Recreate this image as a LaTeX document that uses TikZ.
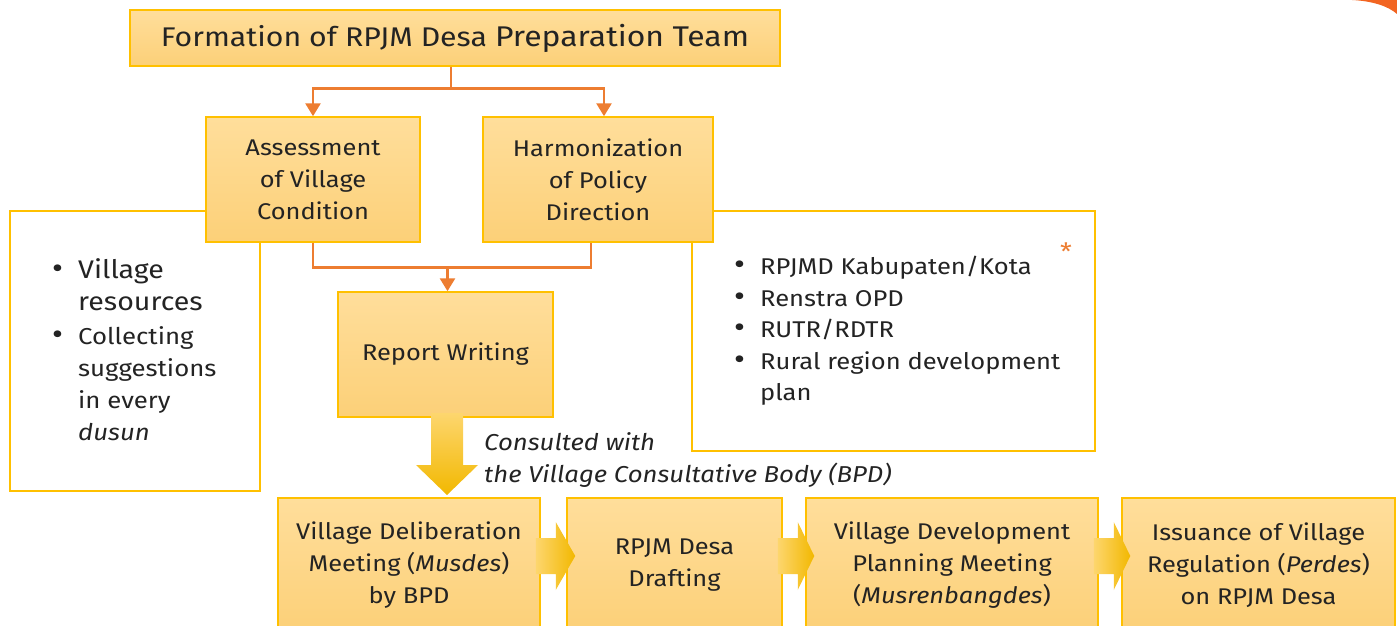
\documentclass[tikz,border=0pt]{standalone}
\usepackage{fontspec}
\setmainfont{Fira Sans}[FakeStretch=1.12]
\usetikzlibrary{arrows.meta,calc,positioning}
\definecolor{boxfillT}{RGB}{255,222,155}
\definecolor{boxfillB}{RGB}{252,208,120}
\definecolor{boxline}{RGB}{255,192,0}
\definecolor{conn}{RGB}{237,125,49}
\definecolor{arrT}{RGB}{253,214,110}
\definecolor{arrB}{RGB}{242,184,0}
\definecolor{txt}{RGB}{35,35,35}
\definecolor{accent}{RGB}{242,101,34}
\newcommand{\bul}{\makebox[0pt][l]{\hspace*{-26pt}\fontsize{30}{30}\selectfont\raisebox{0pt}{•}}}
\tikzset{
  stepbox/.style={draw=boxline,line width=1.5pt,top color=boxfillT,bottom color=boxfillB,
    align=center,text=txt,inner sep=0pt,font=\fontsize{22.7}{32}\selectfont},
  panel/.style={draw=boxline,line width=2pt,fill=white},
  conn/.style={draw=conn,line width=2.7pt},
  arr/.style={conn,-{Triangle[width=15pt,length=13pt]}},
  blockarrH/.style={left color=arrT,right color=arrB,draw=none},
  blockarrV/.style={top color=arrT,bottom color=arrB,draw=none},
}
\begin{document}
\begin{tikzpicture}[x=1pt,y=-1pt]
\useasboundingbox (0,0) rectangle (1397,626);
\clip (0,0) rectangle (1397,626);
% corner decoration
\fill[accent] (1352,0) .. controls (1372,1) and (1388,6) .. (1397,14) -- (1397,0) -- cycle;
% side panels
\draw[panel] (10,211) rectangle (260,491);
\draw[panel] (692,211) rectangle (1095,451);
% top box
\node[stepbox,minimum width=650pt,minimum height=56pt,font=\fontsize{27}{32}\selectfont] (top) at (455,38)
  {Formation of RPJM Desa {\fontsize{28.5}{32}\selectfont Preparation Team}};
\node[stepbox,minimum width=214pt,minimum height=125pt] (assess) at (313,179.5)
  {Assessment\\of Village\\Condition};
\node[stepbox,minimum width=230pt,minimum height=125pt] (harm) at (598,179.5)
  {Harmonization\\of Policy\\Direction};
\node[stepbox,minimum width=215pt,minimum height=125pt] (report) at (445.5,354.5)
  {Report Writing};
% panel texts
\node[anchor=north west,align=left,text=txt,inner sep=0pt] (leftlist) at (78,258)
  {\begin{minipage}[t]{180pt}
   \fontsize{25.5}{33}\selectfont
   \bul Village\\
   resources\\[2pt]
   \fontsize{23}{32}\selectfont
   \bul Collecting\\
   suggestions\\
   in every\\
   \textit{dusun}
   \end{minipage}};
\node[anchor=north west,align=left,text=txt,inner sep=0pt] (rightlist) at (760,256)
  {\begin{minipage}[t]{330pt}
   \fontsize{22.8}{31.5}\selectfont
   \bul RPJMD Kabupaten/Kota\\
   \bul Renstra OPD\\
   \bul RUTR/RDTR\\
   \bul Rural region development\\
   plan
   \end{minipage}};
\node[text=conn,font=\fontsize{24}{24}\selectfont,inner sep=0pt] (star) at (1066,252) {*};
% bottom boxes
\node[stepbox,minimum width=262pt,minimum height=134pt] (b1) at (409,565)
  {Village Deliberation\\Meeting (\textit{Musdes})\\by BPD};
\node[stepbox,minimum width=215pt,minimum height=134pt] (b2) at (674.5,565)
  {RPJM Desa\\Drafting};
\node[stepbox,minimum width=292pt,minimum height=134pt] (b3) at (952,565)
  {Village Development\\Planning Meeting\\(\textit{Musrenbangdes})};
\node[stepbox,minimum width=273pt,minimum height=134pt] (b4) at (1258.5,565)
  {Issuance of Village\\Regulation (\textit{Perdes})\\on RPJM Desa};
% consult label
\node[anchor=north west,align=left,text=txt,inner sep=0pt,font=\fontsize{23}{32}\selectfont\itshape] (consult) at (484,432)
  {Consulted with\\the Village Consultative Body (BPD)};
% connectors
\draw[conn] ($(top.south)+(-4,0)$) -- ++(0,22) coordinate (j1);
\draw[arr] (j1) -| (assess.north);
\draw[arr] (j1) -| ($(harm.north)+(6,0)$);
\draw[conn] (assess.south) -- ++(0,25) coordinate (j2) -| ($(harm.south)+(-7,0)$);
\draw[arr] ($(j2 -| report.north)+(2,0)$) -- ($(report.north)+(2,0)$);
% big down arrow
\path[blockarrV] (431,413) -- (463,413) -- (463,465) -- (478,465) -- (447,495) -- (416,465) -- (431,465) -- cycle;
% small arrows
\foreach \a/\b in {b1/b2,b2/b3,b3/b4}{
  \path let \p1=(\a.east), \p2=(\b.west) in
    [blockarrH] (\x1-5,538) -- (\x1+15,538) -- (\x1+15,522) -- (\x2+9,556) -- (\x1+15,590) -- (\x1+15,574) -- (\x1-5,574) -- cycle;
}
\end{tikzpicture}
\end{document}
